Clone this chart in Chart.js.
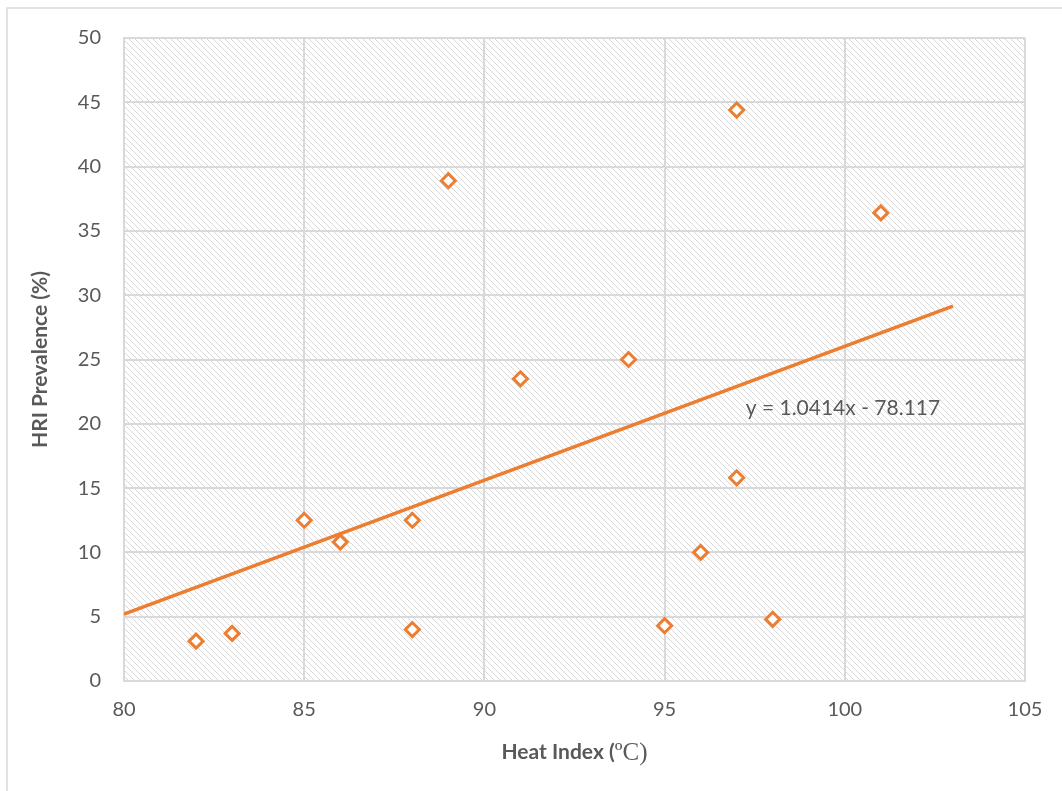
<!DOCTYPE html>
<html>
<head>
<meta charset="utf-8">
<script src="https://cdn.jsdelivr.net/npm/chart.js@4/dist/chart.umd.min.js"></script>
<style>
  html, body { margin: 0; padding: 0; background: #ffffff; }
  #wrap { width: 1062px; height: 791px; }
</style>
</head>
<body>
<div id="wrap"><canvas id="c" width="1062" height="791"></canvas></div>
<script>
// ---- Data ----
const heatIndex     = [82, 83, 85, 86, 88, 88, 89, 91, 94, 95, 96, 97, 97, 98, 101];
const hriPrevalence = [3.1, 3.7, 12.5, 10.8, 12.5, 4.0, 38.9, 23.5, 25.0, 4.3, 10.0, 44.4, 15.8, 4.8, 36.4];
const trendX = [80, 103];
const trendY = [5.2, 29.15];
const trendLabel = 'y = 1.0414x - 78.117';
const xTicks = [80, 85, 90, 95, 100, 105];
const yTicks = [0, 5, 10, 15, 20, 25, 30, 35, 40, 45, 50];
const xTitleMain = 'Heat Index (';
const xTitleUnit = '\u00BAC)';
const yTitle = 'HRI Prevalence (%)';

const ORANGE = '#ED7D31';
const TEXT = '#595959';
const GRID = '#d9d9d9';

// hatch pattern
function makePattern(ctx) {
  const P = 6;
  const pc = document.createElement('canvas');
  pc.width = P; pc.height = P;
  const g = pc.getContext('2d');
  g.fillStyle = '#ffffff';
  g.fillRect(0, 0, P, P);
  g.fillStyle = '#d8d8d8';
  for (let i = 0; i < P; i++) g.fillRect(i, i, 1, 1);
  return ctx.createPattern(pc, 'repeat');
}

const bgPlugin = {
  id: 'bg',
  beforeDraw(chart) {
    const { ctx, chartArea: a } = chart;
    ctx.save();
    ctx.fillStyle = makePattern(ctx);
    ctx.fillRect(a.left, a.top, a.right - a.left, a.bottom - a.top);
    ctx.restore();
  },
  afterDraw(chart) {
    const { ctx, scales } = chart;
    ctx.save();
    // equation label
    ctx.font = '21px Lato';
    ctx.fillStyle = TEXT;
    ctx.textAlign = 'left';
    ctx.textBaseline = 'middle';
    ctx.fillText(trendLabel, scales.x.getPixelForValue(97.25), scales.y.getPixelForValue(21.2));
    // x axis title (mixed fonts)
    const f1 = 'bold 21px Lato';
    const f2 = '25px "Liberation Serif"';
    ctx.font = f1;
    const w1 = ctx.measureText(xTitleMain).width;
    ctx.font = f2;
    const w2 = ctx.measureText(xTitleUnit).width;
    const cx = (chart.chartArea.left + chart.chartArea.right) / 2;
    let x0 = cx - (w1 + w2) / 2;
    const y0 = 752;
    ctx.textBaseline = 'middle';
    ctx.font = f1;
    ctx.fillText(xTitleMain, x0, y0);
    ctx.font = f2;
    ctx.fillText(xTitleUnit, x0 + w1, y0 + 1);
    // outer border
    ctx.strokeStyle = '#d9d9d9';
    ctx.lineWidth = 1.5;
    ctx.beginPath();
    ctx.moveTo(7, 791);
    ctx.lineTo(7, 8);
    ctx.lineTo(1062, 8);
    ctx.stroke();
    ctx.restore();
  }
};

const scatterData = heatIndex.map((x, i) => ({ x: x, y: hriPrevalence[i] }));
const trendData = trendX.map((x, i) => ({ x: x, y: trendY[i] }));

new Chart(document.getElementById('c'), {
  type: 'scatter',
  data: {
    datasets: [
      {
        type: 'line',
        data: trendData,
        borderColor: ORANGE,
        borderWidth: 3.5,
        pointRadius: 0,
        fill: false,
        order: 2
      },
      {
        data: scatterData,
        pointStyle: 'rectRot',
        pointRadius: 7,
        pointBorderWidth: 3,
        borderColor: ORANGE,
        backgroundColor: '#ffffff',
        pointBackgroundColor: '#ffffff',
        pointBorderColor: ORANGE,
        order: 1
      }
    ]
  },
  options: {
    responsive: false,
    animation: false,
    layout: { padding: { left: 28, right: 37, top: 38, bottom: 0 } },
    plugins: { legend: { display: false }, tooltip: { enabled: false } },
    scales: {
      x: {
        type: 'linear',
        min: xTicks[0], max: xTicks[xTicks.length - 1],
        afterBuildTicks(s) { s.ticks = xTicks.map(v => ({ value: v })); },
        afterFit(s) { s.height = 110; },
        grid: { color: GRID, lineWidth: 2, drawTicks: false },
        border: { color: GRID, width: 2 },
        ticks: { color: TEXT, font: { family: 'Lato', size: 20 }, padding: 17, maxRotation: 0 }
      },
      y: {
        type: 'linear',
        min: yTicks[0], max: yTicks[yTicks.length - 1],
        afterBuildTicks(s) { s.ticks = yTicks.map(v => ({ value: v })); },
        afterFit(s) { s.width = 96; },
        grid: { color: GRID, lineWidth: 2, drawTicks: false },
        border: { color: GRID, width: 2 },
        ticks: { color: TEXT, font: { family: 'Lato', size: 20 }, padding: 23 },
        title: { display: true, text: yTitle, color: TEXT, font: { family: 'Lato', size: 21, weight: 'bold' }, padding: 0 }
      }
    }
  },
  plugins: [bgPlugin]
});
</script>
</body>
</html>
